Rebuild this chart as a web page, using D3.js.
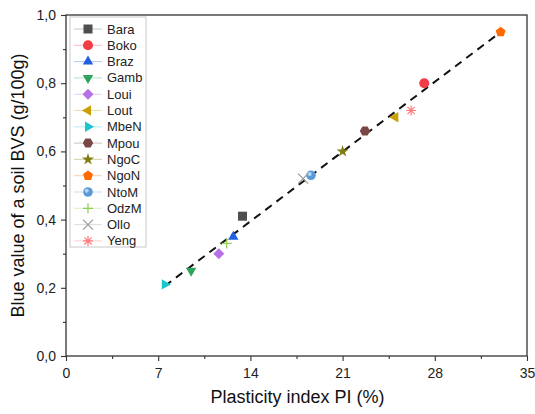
<!DOCTYPE html>
<html>
<head>
<meta charset="utf-8">
<script src="https://cdn.jsdelivr.net/npm/d3@7"></script>
<style>
  body { margin: 0; background: #fff; }
  text { font-family: "Liberation Sans", Arial, sans-serif; }
</style>
</head>
<body>
<div id="chart"></div>
<script>
const width = 535, height = 414;
const margin = {left: 66, right: 8, top: 15, bottom: 58};

// soil samples
const names = ['Bara', 'Boko', 'Braz', 'Gamb', 'Loui', 'Lout', 'MbeN', 'Mpou', 'NgoC', 'NgoN', 'NtoM', 'OdzM', 'Ollo', 'Yeng'];
const plasticity = [13.4, 27.2, 12.7, 9.5, 11.6, 25.0, 7.5, 22.7, 21.0, 33.0, 18.6, 12.2, 18.0, 26.2];
const blueValue = [0.41, 0.80, 0.35, 0.25, 0.30, 0.70, 0.21, 0.66, 0.60, 0.95, 0.53, 0.33, 0.52, 0.72];
const colors = ['#4f4f4f', '#f23c46', '#1f5fe0', '#2ea35c', '#b870e6', '#c9a000', '#19c6cc', '#7a4747', '#7d7d10', '#ff6a00', '#5a9ad8', '#8fd155', '#9a9a9a', '#ff7b7b'];
const shapes = ['square', 'circle', 'up', 'down', 'diamond', 'left', 'right', 'hexagon', 'star', 'pentagon', 'sphere', 'plus', 'cross', 'asterisk'];

// fitted trend line endpoints
const fitX = [7.5, 33.0];
const fitY = [0.205, 0.95];

const xTicks = [0, 7, 14, 21, 28, 35];
const yTicks = [0, 0.2, 0.4, 0.6, 0.8, 1.0];

const svg = d3.select('#chart').append('svg')
  .attr('width', width)
  .attr('height', height);

const x = d3.scaleLinear().domain([0, 35]).range([margin.left, width - margin.right]);
const y = d3.scaleLinear().domain([0, 1]).range([height - margin.bottom, margin.top]);
const fmt = d => d3.format('.1f')(d).replace('.', ',');

function polygon(n, r, rot) {
  const pts = [];
  for (let i = 0; i < n; i++) {
    const a = rot + i * 2 * Math.PI / n;
    pts.push([r * Math.cos(a), r * Math.sin(a)]);
  }
  return 'M' + pts.map(p => p.join(',')).join('L') + 'Z';
}

function drawMarker(g, shape, color) {
  const s = 5;
  if (shape === 'square') g.append('rect').attr('x', -4.5).attr('y', -4.5).attr('width', 9).attr('height', 9).attr('fill', color);
  else if (shape === 'circle') g.append('circle').attr('r', 5).attr('fill', color);
  else if (shape === 'up') g.append('path').attr('d', polygon(3, 6, -Math.PI / 2)).attr('fill', color);
  else if (shape === 'down') g.append('path').attr('d', polygon(3, 6, Math.PI / 2)).attr('fill', color);
  else if (shape === 'left') g.append('path').attr('d', polygon(3, 6, Math.PI)).attr('fill', color);
  else if (shape === 'right') g.append('path').attr('d', polygon(3, 6, 0)).attr('fill', color);
  else if (shape === 'diamond') g.append('path').attr('d', polygon(4, 5.5, 0)).attr('fill', color);
  else if (shape === 'hexagon') g.append('path').attr('d', polygon(6, 5.2, 0)).attr('fill', color);
  else if (shape === 'pentagon') g.append('path').attr('d', polygon(5, 5.2, -Math.PI / 2)).attr('fill', color);
  else if (shape === 'star') g.append('path').attr('d', d3.symbol(d3.symbolStar, 45)()).attr('fill', color);
  else if (shape === 'sphere') {
    g.append('circle').attr('r', 4.8).attr('fill', color);
    g.append('circle').attr('r', 2).attr('cx', -1.3).attr('cy', -1.3).attr('fill', '#cfe2f7').attr('opacity', 0.8);
  }
  else if (shape === 'plus') g.append('path').attr('d', `M${-s},0H${s}M0,${-s}V${s}`).attr('stroke', color).attr('stroke-width', 1.3);
  else if (shape === 'cross') g.append('path').attr('d', `M${-s},${-s}L${s},${s}M${-s},${s}L${s},${-s}`).attr('stroke', color).attr('stroke-width', 1.2);
  else if (shape === 'asterisk') g.append('path').attr('d', `M${-s},0H${s}M0,${-s}V${s}M-3.6,-3.6L3.6,3.6M-3.6,3.6L3.6,-3.6`).attr('stroke', color).attr('stroke-width', 1.2);
}

// frame
svg.append('rect')
  .attr('x', x(0)).attr('y', y(1))
  .attr('width', x(35) - x(0)).attr('height', y(0) - y(1))
  .attr('fill', 'none').attr('stroke', '#333').attr('stroke-width', 1.3);

// axes
svg.append('g')
  .attr('transform', 'translate(0,' + y(0) + ')')
  .call(d3.axisBottom(x).tickValues(xTicks).tickSize(5).tickPadding(7).tickFormat(d3.format('d')));
svg.append('g')
  .attr('transform', 'translate(0,' + y(0) + ')')
  .call(d3.axisBottom(x).tickValues(d3.range(3.5, 35, 7)).tickSize(3).tickFormat(''));
svg.append('g')
  .attr('transform', 'translate(' + x(0) + ',0)')
  .call(d3.axisLeft(y).tickValues(yTicks).tickSize(5).tickPadding(5).tickFormat(fmt));
svg.append('g')
  .attr('transform', 'translate(' + x(0) + ',0)')
  .call(d3.axisLeft(y).tickValues([0.1, 0.3, 0.5, 0.7, 0.9]).tickSize(3).tickFormat(''));
svg.selectAll('.domain').remove();
svg.selectAll('.tick line').attr('stroke', '#333').attr('stroke-width', 1.1);
svg.selectAll('.tick text').attr('font-size', 14).attr('fill', '#222')
  .style('font-family', '"Liberation Sans", Arial, sans-serif');

// axis titles
svg.append('text')
  .attr('x', (x(0) + x(35)) / 2 + 1).attr('y', 403)
  .attr('text-anchor', 'middle').attr('font-size', 18).attr('fill', '#111')
  .text('Plasticity index PI (%)');
svg.append('text')
  .attr('transform', 'translate(24,' + ((y(0) + y(1)) / 2) + ') rotate(-90)')
  .attr('text-anchor', 'middle').attr('font-size', 18).attr('fill', '#111')
  .text('Blue value of a soil BVS (g/100g)');

// trend line
svg.append('line')
  .attr('x1', x(fitX[0])).attr('y1', y(fitY[0]))
  .attr('x2', x(fitX[1])).attr('y2', y(fitY[1]))
  .attr('stroke', '#111').attr('stroke-width', 2).attr('stroke-dasharray', '8,6');

// points
names.forEach((n, i) => {
  const g = svg.append('g').attr('transform', `translate(${x(plasticity[i])},${y(blueValue[i])})`);
  drawMarker(g, shapes[i], colors[i]);
});

// legend
const lg = svg.append('g').attr('transform', 'translate(70,17)');
lg.append('rect').attr('x', 0).attr('y', 0).attr('width', 76).attr('height', 230)
  .attr('fill', '#fff').attr('stroke', '#c8c8c8').attr('stroke-width', 1);
names.forEach((n, i) => {
  const row = lg.append('g').attr('transform', `translate(0,${12 + i * 16.3})`);
  row.append('line').attr('x1', 4).attr('x2', 32).attr('stroke', colors[i]).attr('stroke-opacity', 0.35).attr('stroke-width', 1);
  drawMarker(row.append('g').attr('transform', 'translate(18,0)'), shapes[i], colors[i]);
  row.append('text').attr('x', 37).attr('y', 4.5).attr('font-size', 13).attr('fill', '#222').text(n);
});
</script>
</body>
</html>
